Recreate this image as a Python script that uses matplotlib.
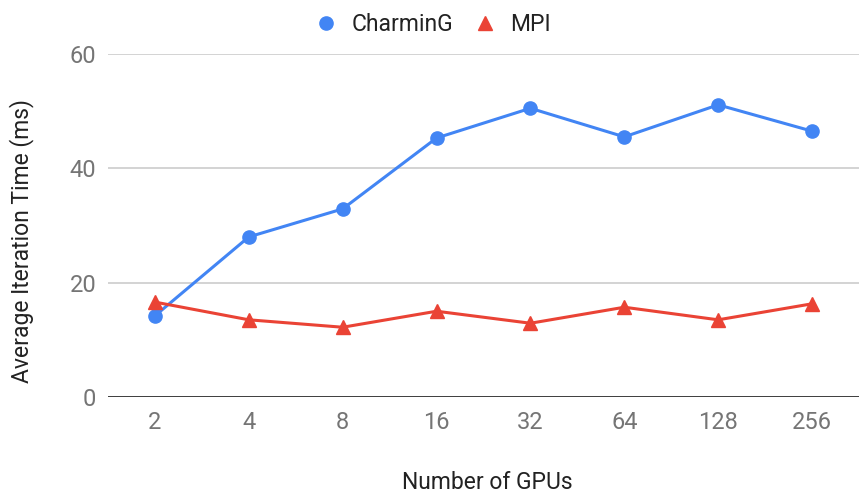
import matplotlib.pyplot as plt

gpus = ["2", "4", "8", "16", "32", "64", "128", "256"]
charming = [14.2, 28.0, 32.9, 45.3, 50.5, 45.5, 51.1, 46.5]
mpi = [16.6, 13.5, 12.2, 15.0, 12.9, 15.7, 13.5, 16.3]

plt.rcParams['font.family'] = ['Roboto', 'DejaVu Sans']

fig = plt.figure(figsize=(8.59, 4.95), dpi=100)
ax = fig.add_axes([0.1257, 0.198, 0.8743, 0.693])

x = range(len(gpus))
ax.plot(x, charming, color='#4285F4', lw=2.2, marker='o', ms=9.5, label='CharminG', zorder=3)
ax.plot(x, mpi, color='#EA4335', lw=2.2, marker='^', ms=10, label='MPI', zorder=3)

ax.set_xlim(-0.5, 7.5)
ax.set_ylim(0, 60)
ax.set_yticks([0, 20, 40, 60])
ax.set_xticks(list(x))
ax.set_xticklabels(gpus)
ax.tick_params(length=0, labelsize=17, labelcolor='#757575')
ax.tick_params(axis='x', pad=10)
ax.tick_params(axis='y', pad=8.5)
ax.grid(axis='y', color='#cccccc', lw=1.2)
ax.axhline(0, color='#333333', lw=1.3, zorder=2)
for s in ax.spines.values():
    s.set_visible(False)
ax.set_axisbelow(True)

ax.set_ylabel('Average Iteration Time (ms)', fontsize=16.5, color='#222222')
ax.yaxis.set_label_coords(-0.099, 0.455)
ax.set_xlabel('Number of GPUs', fontsize=16.5, color='#222222', labelpad=28)
ax.xaxis.set_label_coords(0.505, -0.215)
fig.legend(loc='upper center', bbox_to_anchor=(0.504, 1.015), ncol=2, frameon=False,
           fontsize=16.5, handlelength=1, handletextpad=0.6, columnspacing=0.9,
           markerscale=1.0)
for t in fig.legends[0].get_texts():
    t.set_color('#222222')
for h in fig.legends[0].legend_handles:
    h.set_linestyle('none')

fig.savefig('out.png', dpi=100)
